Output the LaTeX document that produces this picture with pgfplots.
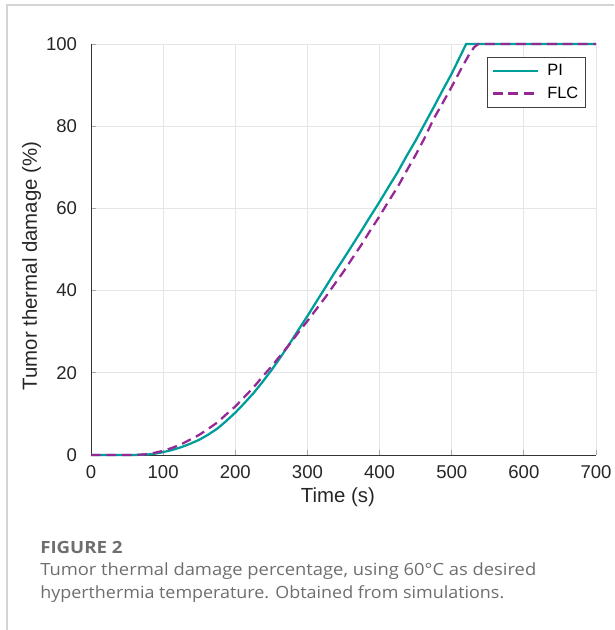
\documentclass[border=0pt]{standalone}
\usepackage{graphicx}
\usepackage{fontspec}
\setmainfont{Liberation Sans}
\newfontfamily\capfont{Open Sans}
\usepackage{pgfplots}
\pgfplotsset{compat=1.18}
\definecolor{piC}{RGB}{0,158,154}
\definecolor{flcC}{RGB}{150,40,150}
\definecolor{frameC}{RGB}{212,212,212}
\definecolor{capC}{RGB}{110,110,110}
\definecolor{tickC}{RGB}{38,38,38}
\begin{document}
\begin{tikzpicture}[x=0.75pt,y=0.75pt]
\path[use as bounding box] (0,0) rectangle (614,630);
\draw[frameC, line width=1.1pt] (7,0) -- (7,625) -- (614,625);
\begin{axis}[
  at={(68.25pt,131.25pt)}, anchor=south west,
  scale only axis, width=378.75pt, height=308.25pt,
  xmin=0, xmax=700, ymin=0, ymax=100,
  xtick={0,100,...,700}, ytick={0,20,...,100},
  axis x line*=bottom, axis y line*=left,
  axis line style={-, black!80, line width=0.6pt},
  tick align=inside, major tick length=3.5pt,
  tick style={gray!70, line width=0.6pt},
  grid=major, major grid style={gray!20, line width=0.6pt},
  tick label style={font=\fontsize{13.9}{16}\selectfont, text=tickC},
  xticklabel style={yshift=-4.5pt},
  yticklabel style={xshift=-7pt},
  label style={font=\fontsize{15.3}{18}\selectfont, text=tickC},
  /pgf/number format/assume math mode=true,
  xlabel={Time (s)}, ylabel={Tumor thermal damage (\%)},
  xlabel style={at={(axis description cs:0.489,0)}, anchor=center, yshift=-31.5pt},
  ylabel style={at={(axis description cs:-0.1178,0.46)}, anchor=center},
  clip=false,
  legend style={at={(rel axis cs:0.979,0.968)}, anchor=north east,
    font=\fontsize{12.3}{14}\selectfont, draw=black!75, line width=0.6pt,
    fill=white, inner xsep=3pt, inner ysep=3pt, row sep=3pt},
  legend cell align=left,
  legend image code/.code={\draw[#1] (0pt,0pt) -- (34pt,0pt); \path (38pt,0pt);},
]
\addplot[piC, line width=1.7pt] coordinates {
(0,0) (60,0) (80,0.15) (90,0.35) (100,0.7) (112,1.2) (125,1.9) (137,2.7)
(150,3.7) (162,4.9) (175,6.4) (187,8.2) (200,10.3) (212,12.5) (225,15.0)
(237,17.6) (250,20.6) (262,23.6) (275,27.0) (287,30.3) (300,33.8) (312,37.2)
(325,40.8) (337,44.2) (350,47.7) (362,51.0) (375,54.6) (387,58.0) (400,61.6)
(412,65.1) (425,68.8) (437,72.6) (450,76.5) (462,80.4) (475,84.6) (487,88.6)
(500,92.8) (512,97.1) (520,100) (700,100)};
\addlegendentry{PI}
\addplot[flcC, line width=1.7pt, dash pattern=on 7.3pt off 4.3pt] coordinates {
(0,0) (60,0) (75,0.15) (87,0.5) (100,1.0) (112,1.7) (125,2.6) (137,3.7)
(150,4.9) (162,6.3) (175,7.9) (187,9.8) (200,11.8) (212,14.0) (225,16.4)
(237,18.9) (250,21.5) (262,24.1) (275,26.9) (287,29.7) (300,32.6) (312,35.4)
(325,38.4) (337,41.4) (350,44.6) (362,47.8) (375,51.2) (387,54.6) (400,58.1)
(412,61.6) (425,65.2) (437,69.0) (450,73.0) (462,77.0) (475,81.8) (487,85.5)
(500,89.6) (512,93.6) (524,97.4) (531,99.2) (537,100) (700,100)};
\addlegendentry{FLC}
\end{axis}
\node[anchor=base west, inner sep=0pt, font=\capfont\bfseries\fontsize{12.6}{14}\selectfont, text=capC] at (40,76.7) {\resizebox{61.7pt}{\height}{FIGURE 2}};
\node[anchor=base west, inner sep=0pt, font=\capfont\fontsize{12.6}{14}\selectfont, text=capC] at (40,54) {\resizebox{372pt}{\height}{Tumor thermal damage percentage, using 60°C as desired}};
\node[anchor=base west, inner sep=0pt, font=\capfont\fontsize{12.6}{14}\selectfont, text=capC] at (40,31.7) {\resizebox{348pt}{\height}{hyperthermia temperature. Obtained from simulations.}};
\end{tikzpicture}
\end{document}
